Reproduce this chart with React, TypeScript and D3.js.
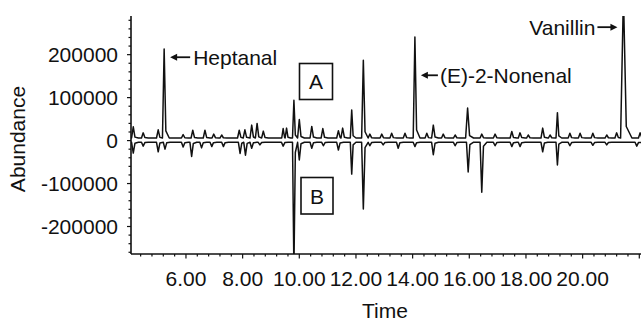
import React from 'react';
import * as d3 from 'd3';

const W = 641;
const H = 321;
const margin = { left: 131, right: 0, top: 16, bottom: 67 };

const xDomain: [number, number] = [4.06, 22.06];
const yDomain: [number, number] = [-264000, 290000];

const xTickValues = [6, 8, 10, 12, 14, 16, 18, 20];
const xTickLabels = ['6.00', '8.00', '10.00', '12.00', '14.00', '16.00', '18.00', '20.00'];
const yTickValues = [200000, 100000, 0, -100000, -200000];
const yTickLabels = ['200000', '100000', '0', '-100000', '-200000'];

// Trace A (upper, sample A): peak retention times (min), apex abundance, half-width (min)
const peakTimesA = [4.14, 4.49, 5.02, 5.23, 5.9, 6.24, 6.67, 6.98, 7.26, 7.88, 8.08, 8.32, 8.51, 8.73, 9.43, 9.55, 9.81, 10.0, 10.44, 10.83, 11.38, 11.53, 11.85, 12.26, 12.49, 12.91, 13.26, 13.73, 14.08, 14.5, 14.73, 15.08, 15.5, 15.94, 16.44, 16.91, 17.5, 17.79, 18.08, 18.59, 18.85, 19.11, 19.55, 19.91, 20.36, 20.85, 21.2, 21.44, 22.03];
const peakValuesA = [32000, 18000, 25000, 213000, 14000, 24000, 24000, 15000, 13000, 24000, 25000, 36000, 40000, 22000, 28000, 29000, 94000, 49000, 33000, 28000, 23000, 29000, 71000, 187000, 15000, 15000, 17000, 17000, 241000, 17000, 36000, 15000, 13000, 76000, 15000, 15000, 21000, 18000, 13000, 29000, 13000, 65000, 17000, 17000, 17000, 13000, 18000, 340000, 18000];
const peakWidthsA = [0.06, 0.06, 0.06, 0.06, 0.06, 0.06, 0.06, 0.06, 0.06, 0.06, 0.06, 0.06, 0.06, 0.06, 0.05, 0.05, 0.05, 0.06, 0.06, 0.06, 0.06, 0.06, 0.05, 0.06, 0.06, 0.06, 0.06, 0.06, 0.06, 0.06, 0.06, 0.06, 0.06, 0.07, 0.06, 0.06, 0.06, 0.06, 0.06, 0.06, 0.06, 0.05, 0.06, 0.06, 0.06, 0.06, 0.06, 0.1, 0.06];
const baselineA = 6000;

// Trace B (lower, sample B, plotted inverted)
const peakTimesB = [4.14, 4.49, 5.02, 5.26, 5.9, 6.2, 6.55, 6.91, 7.32, 7.91, 8.1, 8.32, 8.61, 9.43, 9.81, 10.0, 10.44, 10.85, 11.38, 11.85, 12.26, 12.49, 12.96, 13.49, 14.08, 14.73, 15.5, 15.96, 16.44, 16.91, 17.5, 17.79, 18.59, 19.11, 19.55, 20.36, 20.85, 21.91];
const peakValuesB = [-29000, -13000, -26000, -20000, -15000, -37000, -17000, -14000, -14000, -30000, -34000, -18000, -10000, -13000, -300000, -45000, -18000, -12000, -22000, -78000, -159000, -12000, -10000, -18000, -14000, -33000, -12000, -73000, -120000, -12000, -14000, -14000, -26000, -57000, -12000, -11000, -10000, -13000];
const peakWidthsB = [0.06, 0.06, 0.06, 0.06, 0.06, 0.06, 0.06, 0.06, 0.06, 0.06, 0.06, 0.06, 0.06, 0.06, 0.05, 0.06, 0.06, 0.06, 0.06, 0.05, 0.06, 0.06, 0.06, 0.06, 0.06, 0.06, 0.06, 0.06, 0.06, 0.06, 0.06, 0.06, 0.06, 0.05, 0.06, 0.06, 0.06, 0.06];
const baselineB = -4000;

const compoundNames = ['Heptanal', '(E)-2-Nonenal', 'Vanillin'];
const compoundTimes = [5.23, 14.08, 21.44];
const compoundLabelValues = [194000, 152000, 264000];

function buildTrace(times: number[], values: number[], widths: number[], base: number): [number, number][] {
  const pts: [number, number][] = [[xDomain[0], base]];
  const push = (t: number, v: number) => {
    if (t > pts[pts.length - 1][0]) pts.push([t, v]);
  };
  times.forEach((t, i) => {
    const w = widths[i];
    const v = values[i];
    const next = i + 1 < times.length ? times[i + 1] - widths[i + 1] : Infinity;
    push(t - w, base);
    push(t, v);
    push(Math.min(t + w, next - 0.001), base + (v - base) * 0.08);
    push(Math.min(t + 3 * w, next), base);
  });
  push(xDomain[1], base);
  return pts;
}

export default function App() {
  const x = d3.scaleLinear().domain(xDomain).range([margin.left, W - margin.right]);
  const y = d3.scaleLinear().domain(yDomain).range([H - margin.bottom, margin.top]);
  const line = d3.line<[number, number]>().x(d => x(d[0])).y(d => y(d[1]));
  const traceA = buildTrace(peakTimesA, peakValuesA, peakWidthsA, baselineA);
  const traceB = buildTrace(peakTimesB, peakValuesB, peakWidthsB, baselineB);

  const plotBottom = H - margin.bottom;
  const plotTop = margin.top;
  const font = '"Liberation Sans", Arial, sans-serif';
  const fs = 21;
  const ink = '#111';

  const xMinor = d3.range(0, 46).map(k => 4.4 + 0.4 * k).filter(t => t <= xDomain[1]);
  const yMinor = d3.range(-13, 15).map(k => k * 20000).filter(v => v >= yDomain[0] && v <= yDomain[1]);

  const arrow = (x1: number, x2: number, yy: number, key: string) => {
    const dir = x2 > x1 ? 1 : -1;
    const hl = 7;
    return (
      <g key={key}>
        <line x1={x1} y1={yy} x2={x2 - dir * hl * 0.8} y2={yy} stroke={ink} strokeWidth={1.8} />
        <path d={`M${x2},${yy} L${x2 - dir * hl},${yy - 3.5} L${x2 - dir * hl},${yy + 3.5} Z`} fill={ink} />
      </g>
    );
  };

  const hx = x(compoundTimes[0]);
  const hy = y(compoundLabelValues[0]);
  const nx = x(compoundTimes[1]);
  const ny = y(compoundLabelValues[1]);
  const vx = x(compoundTimes[2]);
  const vy = y(compoundLabelValues[2]);

  return (
    <svg width={W} height={H} style={{ position: 'absolute', left: 0, top: 0, background: '#fff' }}>
      <rect x={0} y={0} width={W} height={H} fill="#fff" />
      <defs>
        <clipPath id="plotClip">
          <rect x={margin.left} y={plotTop} width={W - margin.left} height={plotBottom - plotTop} />
        </clipPath>
      </defs>

      <g clipPath="url(#plotClip)">
        <path d={line(traceB) || ''} fill="none" stroke={ink} strokeWidth={1.5} strokeLinejoin="round" />
        <path d={line(traceA) || ''} fill="none" stroke={ink} strokeWidth={1.5} strokeLinejoin="round" />
      </g>

      {/* Y axis */}
      <line x1={margin.left} y1={plotTop} x2={margin.left} y2={plotBottom} stroke={ink} strokeWidth={1.6} />
      {yMinor.map(v => (
        <line key={'ym' + v} x1={margin.left - (v % 100000 === 0 ? 4 : 2.5)} x2={margin.left} y1={y(v)} y2={y(v)} stroke={ink} strokeWidth={1.2} />
      ))}
      {yTickValues.map((v, i) => (
        <text key={'yl' + v} x={margin.left - 13} y={y(v)} dy="0.36em" textAnchor="end" fontFamily={font} fontSize={fs} fill={ink}>
          {yTickLabels[i]}
        </text>
      ))}

      {/* X axis */}
      <line x1={margin.left} y1={plotBottom} x2={W} y2={plotBottom} stroke={ink} strokeWidth={1.6} />
      {xMinor.map((t, k) => {
        const major = Math.abs(t / 2 - Math.round(t / 2)) < 1e-6;
        return <line key={'xm' + k} x1={x(t)} x2={x(t)} y1={plotBottom} y2={plotBottom + (major ? 4.5 : 2.5)} stroke={ink} strokeWidth={1.2} />;
      })}
      {xTickValues.map((t, i) => (
        <text key={'xl' + t} x={x(t)} y={plotBottom + 32} textAnchor="middle" fontFamily={font} fontSize={fs} fill={ink}>
          {xTickLabels[i]}
        </text>
      ))}

      {/* Axis titles */}
      <text x={385} y={318} textAnchor="middle" fontFamily={font} fontSize={fs} fill={ink}>Time</text>
      <text transform={`translate(25,${139}) rotate(-90)`} textAnchor="middle" fontFamily={font} fontSize={fs} fill={ink}>Abundance</text>

      {/* Compound annotations */}
      {arrow(hx + 26, hx + 6, hy, 'a1')}
      <text x={hx + 29} y={hy} dy="0.36em" fontFamily={font} fontSize={fs} fill={ink}>{compoundNames[0]}</text>
      {arrow(nx + 23, nx + 6, ny, 'a2')}
      <text x={nx + 25} y={ny} dy="0.36em" fontFamily={font} fontSize={fs} fill={ink}>{compoundNames[1]}</text>
      {arrow(vx - 26, vx - 6, vy, 'a3')}
      <text x={vx - 28} y={vy} dy="0.36em" textAnchor="end" fontFamily={font} fontSize={fs} fill={ink}>{compoundNames[2]}</text>

      {/* Sample boxes */}
      <rect x={299.5} y={63.5} width={33} height={36} fill="#fff" stroke={ink} strokeWidth={1.6} />
      <text x={316} y={81.5} dy="0.36em" textAnchor="middle" fontFamily={font} fontSize={fs} fill={ink}>A</text>
      <rect x={301} y={177.5} width={32} height={36.5} fill="#fff" stroke={ink} strokeWidth={1.6} />
      <text x={317} y={196} dy="0.36em" textAnchor="middle" fontFamily={font} fontSize={fs} fill={ink}>B</text>
    </svg>
  );
}
